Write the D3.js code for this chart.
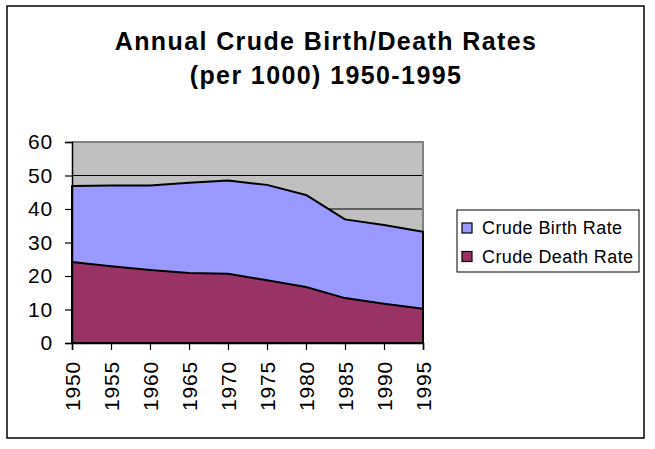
<!DOCTYPE html>
<html>
<head>
<meta charset="utf-8">
<script src="https://cdn.jsdelivr.net/npm/d3@7"></script>
<style>
  body { margin: 0; background: #fff; }
  text { font-family: Arial, "Liberation Sans", sans-serif; fill: #000; }
</style>
</head>
<body>
<div id="vis"></div>
<script>
/*************************** data ************************************/
var years = [1950, 1955, 1960, 1965, 1970, 1975, 1980, 1985, 1990, 1995];
var birthRate = [46.9, 47.0, 47.0, 47.8, 48.5, 47.2, 44.2, 36.9, 35.2, 33.2];
var deathRate = [24.2, 22.9, 21.8, 20.9, 20.7, 18.7, 16.7, 13.4, 11.7, 10.2];
var yTicks = [0, 10, 20, 30, 40, 50, 60];
var titleLines = ["Annual Crude Birth/Death Rates", "(per 1000) 1950-1995"];
var seriesNames = ["Crude Birth Rate", "Crude Death Rate"];
var seriesColors = ["#9999ff", "#993366"];

/*************************** chart ************************************/
var W = 655, H = 449;
var svg = d3.select("div#vis").append("svg")
    .attr("width", W)
    .attr("height", H);

// outer chart border
svg.append("rect")
    .attr("x", 7).attr("y", 6)
    .attr("width", 637).attr("height", 432)
    .attr("fill", "#fff")
    .attr("stroke", "#000")
    .attr("stroke-width", 1.5);

// title
svg.selectAll("text.title")
    .data(titleLines)
  .enter().append("text")
    .attr("class", "title")
    .attr("x", 326)
    .attr("y", function(d, i) { return 50 + i * 34; })
    .attr("text-anchor", "middle")
    .style("font-size", "25px")
    .style("font-weight", "bold")
    .style("letter-spacing", "1.4px")
    .text(function(d) { return d; });

var pLeft = 72, pRight = 423, pTop = 142, pBottom = 343;

var x = d3.scaleLinear().domain([1950, 1995]).range([pLeft, pRight]);
var y = d3.scaleLinear().domain([0, 60]).range([pBottom, pTop]);

// plot background
svg.append("rect")
    .attr("x", pLeft).attr("y", pTop)
    .attr("width", pRight - pLeft).attr("height", pBottom - pTop)
    .attr("fill", "#c0c0c0");

// gridlines
svg.selectAll("line.grid")
    .data(yTicks.filter(function(d) { return d > 0 && d < 60; }))
  .enter().append("line")
    .attr("class", "grid")
    .attr("x1", pLeft).attr("x2", pRight)
    .attr("y1", function(d) { return y(d); })
    .attr("y2", function(d) { return y(d); })
    .attr("stroke", "#000")
    .attr("stroke-width", 1);

// plot frame (top & right grey)
svg.append("path")
    .attr("d", "M" + pLeft + "," + pTop + "H" + pRight + "V" + pBottom)
    .attr("fill", "none")
    .attr("stroke", "#808080")
    .attr("stroke-width", 2);

var series = [birthRate, deathRate];
var area = d3.area()
    .x(function(d, i) { return x(years[i]); })
    .y0(y(0))
    .y1(function(d) { return y(d); });

svg.selectAll("path.area")
    .data(series)
  .enter().append("path")
    .attr("class", "area")
    .attr("d", area)
    .attr("fill", function(d, i) { return seriesColors[i]; })
    .attr("stroke", "#000")
    .attr("stroke-width", 2)
    .attr("stroke-linejoin", "round");

// axes
var yAxis = svg.append("g")
    .attr("transform", "translate(" + pLeft + ",0)")
    .call(d3.axisLeft(y).tickValues(yTicks).tickSize(7).tickPadding(12));
var xAxis = svg.append("g")
    .attr("transform", "translate(0," + pBottom + ")")
    .call(d3.axisBottom(x).tickValues(years).tickSize(7).tickFormat(d3.format("d")));

[yAxis, xAxis].forEach(function(g) {
    g.select(".domain").attr("stroke", "#000").attr("stroke-width", 1.5);
    g.selectAll(".tick line").attr("stroke", "#000").attr("stroke-width", 1.2);
    g.selectAll("text")
        .style("font-size", "21px")
        .style("letter-spacing", "0.8px")
        .attr("fill", "#000");
});

xAxis.selectAll("text")
    .attr("transform", "rotate(-90)")
    .attr("x", -18)
    .attr("y", 0)
    .attr("dy", "0.35em")
    .attr("text-anchor", "end");

/*************************** legend ************************************/
var legend = svg.append("g")
    .attr("transform", "translate(457,210)");

legend.append("rect")
    .attr("width", 182).attr("height", 62)
    .attr("fill", "#fff")
    .attr("stroke", "#000")
    .attr("stroke-width", 1);

var legendElems = legend.selectAll("g.legend-elem")
    .data(seriesNames)
  .enter().append("g")
    .attr("class", "legend-elem")
    .attr("transform", function(d, i) { return "translate(0," + (18 + i * 28.5) + ")"; });

legendElems.append("rect")
    .attr("x", 5).attr("y", -5)
    .attr("width", 10).attr("height", 10)
    .attr("fill", function(d, i) { return seriesColors[i]; })
    .attr("stroke", "#000")
    .attr("stroke-width", 1.2);

legendElems.append("text")
    .attr("x", 25)
    .attr("dy", "0.36em")
    .style("font-size", "18px")
    .style("letter-spacing", "0.4px")
    .text(function(d) { return d; });
</script>
</body>
</html>
